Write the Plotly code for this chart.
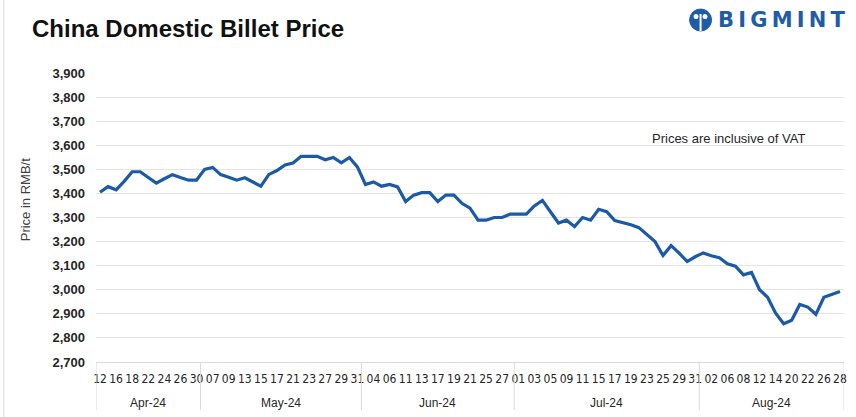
import plotly.graph_objects as go

# ---------------- data ----------------
months = ["Apr-24", "May-24", "Jun-24", "Jul-24", "Aug-24"]

apr_days = ["12", "15", "16", "17", "18", "19", "22", "23", "24", "25", "26", "29", "30"]
may_days = ["06", "07", "08", "09", "10", "13", "14", "15", "16", "17", "20", "21", "22", "23", "24",
            "27", "28", "29", "30", "31"]
jun_days = ["03", "04", "05", "06", "07", "11", "12", "13", "14", "17", "18", "19", "20", "21", "24",
            "25", "26", "27", "28"]
jul_days = ["01", "02", "03", "04", "05", "08", "09", "10", "11", "12", "15", "16", "17", "18", "19",
            "22", "23", "24", "25", "26", "29", "30", "31"]
aug_days = ["01", "02", "05", "06", "07", "08", "09", "12", "13", "14", "15", "20", "21", "22", "23",
            "26", "27", "28"]

apr_price = [3405, 3428, 3415, 3450, 3490, 3490, 3466, 3443, 3461, 3478, 3466, 3455, 3455]
may_price = [3500, 3508, 3478, 3467, 3455, 3465, 3447, 3430, 3479, 3495, 3518, 3526, 3554, 3554,
             3554, 3540, 3549, 3527, 3549, 3510]
jun_price = [3437, 3448, 3430, 3437, 3427, 3366, 3393, 3403, 3403, 3366, 3393, 3393, 3359, 3339,
             3289, 3289, 3300, 3300, 3314]
jul_price = [3314, 3314, 3348, 3371, 3324, 3277, 3289, 3262, 3300, 3289, 3334, 3324, 3287, 3280,
             3270, 3258, 3230, 3200, 3142, 3183, 3152, 3117, 3137]
aug_price = [3153, 3141, 3133, 3108, 3098, 3062, 3072, 3000, 2969, 2903, 2859, 2873, 2939, 2928,
             2898, 2969, 2981, 2993]

y_ticks = [2700, 2800, 2900, 3000, 3100, 3200, 3300, 3400, 3500, 3600, 3700, 3800, 3900]

# ---------------- build ----------------
days_by_month = [apr_days, may_days, jun_days, jul_days, aug_days]
price_by_month = [apr_price, may_price, jun_price, jul_price, aug_price]

cats, vals, groups = [], [], []
start = 0
for m, ds, ps in zip(months, days_by_month, price_by_month):
    for d, p in zip(ds, ps):
        cats.append(f"{d} {m}")
        vals.append(p)
    groups.append((m, start, start + len(ds) - 1))
    start += len(ds)

tick_vals = cats[::2]
tick_text = [c.split()[0] for c in tick_vals]

LINE_BLUE = "#1c59a6"
LOGO_BLUE = "#1f5ca8"
TXT = "#262626"
GRID = "#e4e4e4"
NARROW = "DejaVu Sans Condensed, Liberation Sans Narrow, Arial Narrow, Liberation Sans, Arial, sans-serif"
SANS = "Liberation Sans, Arial, sans-serif"


def px(x):
    return (x - 96) / 751


def py(y):
    return 1 - (y - 73) / 289


fig = go.Figure()
fig.add_trace(go.Scatter(x=cats, y=vals, mode="lines",
                         line=dict(color=LINE_BLUE, width=3.2), hoverinfo="x+y"))

shapes = []
annotations = []
# month dividers and month labels
for m, s, e in groups:
    shapes.append(dict(type="line", xref="x", yref="paper", x0=s - 0.5, x1=s - 0.5,
                       y0=0, y1=-0.166, line=dict(color="#d9d9d9", width=1)))
    annotations.append(dict(x=(s + e) / 2, y=-0.142, xref="x", yref="paper", text=m,
                            showarrow=False, xanchor="center", yanchor="middle",
                            font=dict(size=12, color=TXT, family=SANS)))
last = groups[-1][2]
shapes.append(dict(type="line", xref="x", yref="paper", x0=last + 0.5, x1=last + 0.5,
                   y0=0, y1=-0.166, line=dict(color="#d9d9d9", width=1)))

# left border of chart
shapes.append(dict(type="line", xref="paper", yref="paper", x0=px(3.5), x1=px(3.5),
                   y0=-0.2, y1=1.3, line=dict(color="#d9d9d9", width=1)))

# logo icon
shapes.append(dict(type="circle", xref="paper", yref="paper",
                   x0=px(692), x1=px(714), y0=py(31), y1=py(9),
                   fillcolor=LOGO_BLUE, line=dict(color=LOGO_BLUE, width=1)))
shapes.append(dict(type="line", xref="paper", yref="paper",
                   x0=px(703), x1=px(703), y0=py(31), y1=py(14),
                   line=dict(color="white", width=2)))
shapes.append(dict(type="circle", xref="paper", yref="paper",
                   x0=px(696), x1=px(701), y0=py(19), y1=py(14),
                   fillcolor="white", line=dict(color="white", width=0)))
shapes.append(dict(type="circle", xref="paper", yref="paper",
                   x0=px(705), x1=px(710), y0=py(19), y1=py(14),
                   fillcolor="white", line=dict(color="white", width=0)))

annotations.append(dict(x=px(718), y=py(20), xref="paper", yref="paper",
                        text="<b>" + "\u2009".join("BIGMINT") + "</b>", showarrow=False,
                        xanchor="left", yanchor="middle",
                        font=dict(size=21, color=LOGO_BLUE, family="DejaVu Sans, Arial, sans-serif")))

# note
annotations.append(dict(x=px(652), y=py(138), xref="paper", yref="paper",
                        text="Prices are inclusive of VAT", showarrow=False, xanchor="left",
                        yanchor="middle",
                        font=dict(size=13, color=TXT, family=SANS)))

# y-axis title
annotations.append(dict(x=px(25), y=py(200), xref="paper", yref="paper",
                        text="Price in RMB/t", showarrow=False, textangle=-90,
                        xanchor="center", yanchor="middle",
                        font=dict(size=13, color="#404040", family=SANS)))

fig.update_layout(
    width=856, height=417,
    margin=dict(l=96, r=9, t=73, b=55),
    paper_bgcolor="white", plot_bgcolor="white",
    showlegend=False,
    title=dict(text="<b>China Domestic Billet Price</b>", xref="container", yref="container",
               x=32 / 856, y=1 - 29 / 417, xanchor="left", yanchor="middle",
               font=dict(size=24, color="#111111", family=SANS)),
    xaxis=dict(type="category", categoryorder="array", categoryarray=cats,
               range=[-0.5, len(cats) - 0.5],
               tickmode="array", tickvals=tick_vals, ticktext=tick_text, tickangle=0,
               ticks="", showgrid=False, zeroline=False,
               showline=True, linecolor="#d9d9d9", linewidth=1,
               ticklabelstandoff=6,
               tickfont=dict(size=12, color=TXT, family=NARROW)),
    yaxis=dict(range=[2700, 3900], tickmode="array", tickvals=y_ticks,
               ticktext=[f"{v:,}" for v in y_ticks],
               showgrid=True, gridcolor=GRID, gridwidth=1, zeroline=False,
               showline=False, ticks="", ticklabelstandoff=10,
               tickfont=dict(size=13, color=TXT, weight="bold", family=SANS)),
    shapes=shapes,
    annotations=annotations,
)

fig.write_html("out.html", config={"displayModeBar": False},
               post_script="document.body.style.margin='0';")
